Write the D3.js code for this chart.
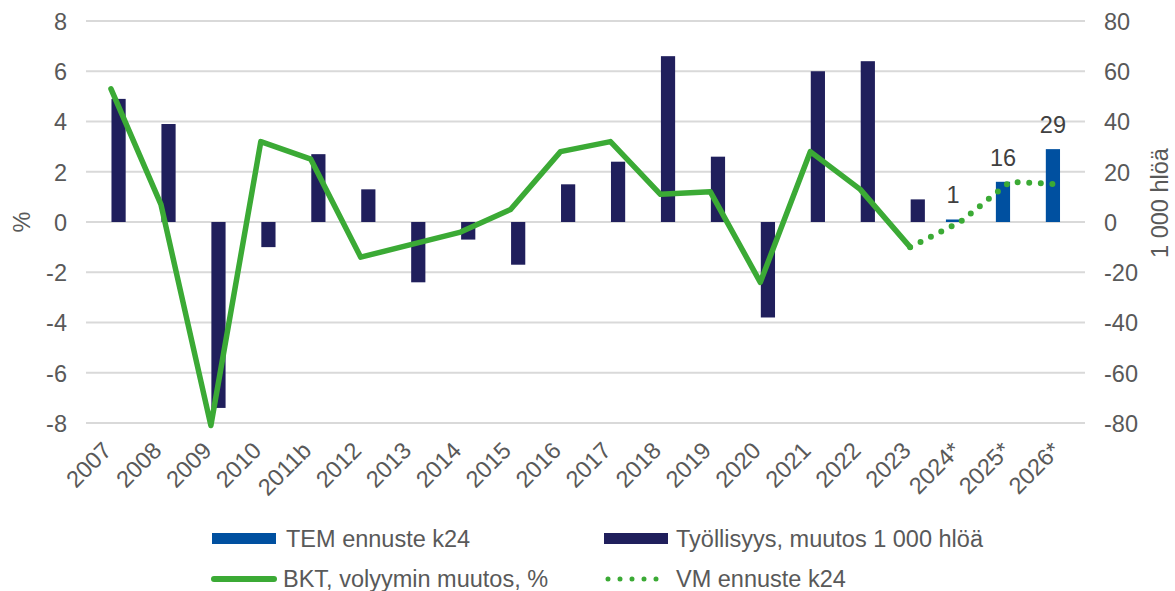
<!DOCTYPE html>
<html>
<head>
<meta charset="utf-8">
<script src="https://cdn.jsdelivr.net/npm/d3@7"></script>
<style>
  html, body { margin: 0; padding: 0; background: #ffffff; }
  svg { display: block; font-family: "Liberation Sans", Arial, sans-serif; }
</style>
</head>
<body>
<svg id="chart" width="1175" height="591"></svg>
<script>
// ---- data ----
const categories = ["2007","2008","2009","2010","2011b","2012","2013","2014","2015","2016","2017","2018","2019","2020","2021","2022","2023","2024*","2025*","2026*"];
// Työllisyys, muutos 1 000 hlöä (right axis)
const employment = [49, 39, -74, -10, 27, 13, -24, -7, -17, 15, 24, 66, 26, -38, 60, 64, 9, null, null, null];
// TEM ennuste k24 (right axis)
const temForecast = [null, null, null, null, null, null, null, null, null, null, null, null, null, null, null, null, null, 1, 16, 29];
// BKT, volyymin muutos, % (left axis)
const gdp = [5.3, 0.7, -8.1, 3.2, 2.5, -1.4, -0.9, -0.4, 0.5, 2.8, 3.2, 1.1, 1.2, -2.4, 2.8, 1.3, -1.0, null, null, null];
// VM ennuste k24 (left axis)
const vmForecast = [null, null, null, null, null, null, null, null, null, null, null, null, null, null, null, null, -1.0, 0.0, 1.6, 1.5];
const leftTicks = [-8, -6, -4, -2, 0, 2, 4, 6, 8];
const rightTicks = [-80, -60, -40, -20, 0, 20, 40, 60, 80];
const legendItems = ["TEM ennuste k24", "Työllisyys, muutos 1 000 hlöä", "BKT, volyymin muutos, %", "VM ennuste k24"];

// ---- setup ----
const svg = d3.select("#chart");
const C = { navy: "#201F5C", blue: "#0050A0", green: "#3BAA35", grid: "#D9D9D9", text: "#595959", label: "#404040" };
const FS = 23.5;

const x = d3.scaleBand().domain(categories).range([86, 1085]).paddingInner(0).paddingOuter(0);
const yL = d3.scaleLinear().domain([-8, 8]).range([423, 21]);
const yR = d3.scaleLinear().domain([-80, 80]).range([423, 21]);
const cx = c => x(c) + x.bandwidth() / 2;
const barW = 14.2;

// gridlines
svg.append("g").selectAll("line").data(leftTicks).join("line")
  .attr("x1", 86).attr("x2", 1085)
  .attr("y1", d => yL(d)).attr("y2", d => yL(d))
  .attr("stroke", C.grid).attr("stroke-width", 2);

// left axis
const gL = svg.append("g").attr("transform", "translate(67,0)")
  .call(d3.axisLeft(yL).tickValues(leftTicks).tickSize(0).tickPadding(0).tickFormat(d => String(d)));
gL.select(".domain").remove();
gL.selectAll("text").attr("font-size", FS).attr("fill", C.text).attr("font-family", "Liberation Sans, Arial, sans-serif").attr("dy", "0.36em");

// right axis
const gR = svg.append("g").attr("transform", "translate(1104,0)")
  .call(d3.axisRight(yR).tickValues(rightTicks).tickSize(0).tickPadding(0).tickFormat(d => String(d)));
gR.select(".domain").remove();
gR.selectAll("text").attr("font-size", FS).attr("fill", C.text).attr("font-family", "Liberation Sans, Arial, sans-serif").attr("dy", "0.36em");

// axis titles
svg.append("text").attr("transform", "translate(30,222) rotate(-90)")
  .attr("text-anchor", "middle").attr("font-size", FS).attr("fill", C.text).text("%");
svg.append("text").attr("transform", "translate(1168,203) rotate(-90)")
  .attr("text-anchor", "middle").attr("font-size", FS).attr("fill", C.text).text("1 000 hlöä");

// x labels
svg.append("g").selectAll("text").data(categories).join("text")
  .attr("transform", d => `translate(${cx(d) + 2},452) rotate(-45)`)
  .attr("text-anchor", "end").attr("font-size", FS).attr("fill", C.text).text(d => d);

// bars: employment
const empData = categories.map((c, i) => ({ c, v: employment[i] })).filter(d => d.v !== null);
svg.append("g").selectAll("rect").data(empData).join("rect")
  .attr("x", d => cx(d.c) + 0.5).attr("width", barW)
  .attr("y", d => yR(Math.max(0, d.v))).attr("height", d => Math.abs(yR(d.v) - yR(0)))
  .attr("fill", C.navy);

// bars: TEM forecast
const temData = categories.map((c, i) => ({ c, v: temForecast[i] })).filter(d => d.v !== null);
svg.append("g").selectAll("rect").data(temData).join("rect")
  .attr("x", d => cx(d.c) - barW).attr("width", barW)
  .attr("y", d => yR(Math.max(0, d.v))).attr("height", d => Math.max(1.5, Math.abs(yR(d.v) - yR(0))))
  .attr("fill", C.blue);
svg.append("g").selectAll("text").data(temData).join("text")
  .attr("x", d => cx(d.c) - barW / 2).attr("y", d => yR(Math.max(0, d.v)) - 16)
  .attr("text-anchor", "middle").attr("font-size", FS).attr("fill", C.label).text(d => d.v);

// GDP line
const line = d3.line().defined(d => d.v !== null).x(d => cx(d.c)).y(d => yL(d.v));
svg.append("path").datum(categories.map((c, i) => ({ c, v: gdp[i] })))
  .attr("d", line).attr("fill", "none").attr("stroke", C.green).attr("stroke-width", 5.5)
  .attr("stroke-linejoin", "round").attr("stroke-linecap", "round");

// VM forecast dotted
svg.append("path").datum(categories.map((c, i) => ({ c, v: vmForecast[i] })))
  .attr("d", line).attr("fill", "none").attr("stroke", C.green).attr("stroke-width", 6)
  .attr("stroke-dasharray", "0 11.6").attr("stroke-linecap", "round").attr("stroke-dashoffset", -11.6);

// legend
const lg = svg.append("g");
lg.append("rect").attr("x", 212).attr("y", 533).attr("width", 64).attr("height", 11).attr("fill", C.blue);
lg.append("text").attr("x", 286).attr("y", 547).attr("font-size", FS).attr("fill", C.text).text(legendItems[0]);
lg.append("rect").attr("x", 604).attr("y", 533).attr("width", 64).attr("height", 11).attr("fill", C.navy);
lg.append("text").attr("x", 676).attr("y", 547).attr("font-size", FS).attr("fill", C.text).text(legendItems[1]);
lg.append("line").attr("x1", 214).attr("x2", 274).attr("y1", 579).attr("y2", 579)
  .attr("stroke", C.green).attr("stroke-width", 6).attr("stroke-linecap", "round");
lg.append("text").attr("x", 283).attr("y", 587).attr("font-size", FS).attr("fill", C.text).text(legendItems[2]);
lg.append("line").attr("x1", 608).attr("x2", 668).attr("y1", 579).attr("y2", 579)
  .attr("stroke", C.green).attr("stroke-width", 5).attr("stroke-linecap", "round").attr("stroke-dasharray", "0 12");
lg.append("text").attr("x", 676).attr("y", 587).attr("font-size", FS).attr("fill", C.text).text(legendItems[3]);
</script>
</body>
</html>
